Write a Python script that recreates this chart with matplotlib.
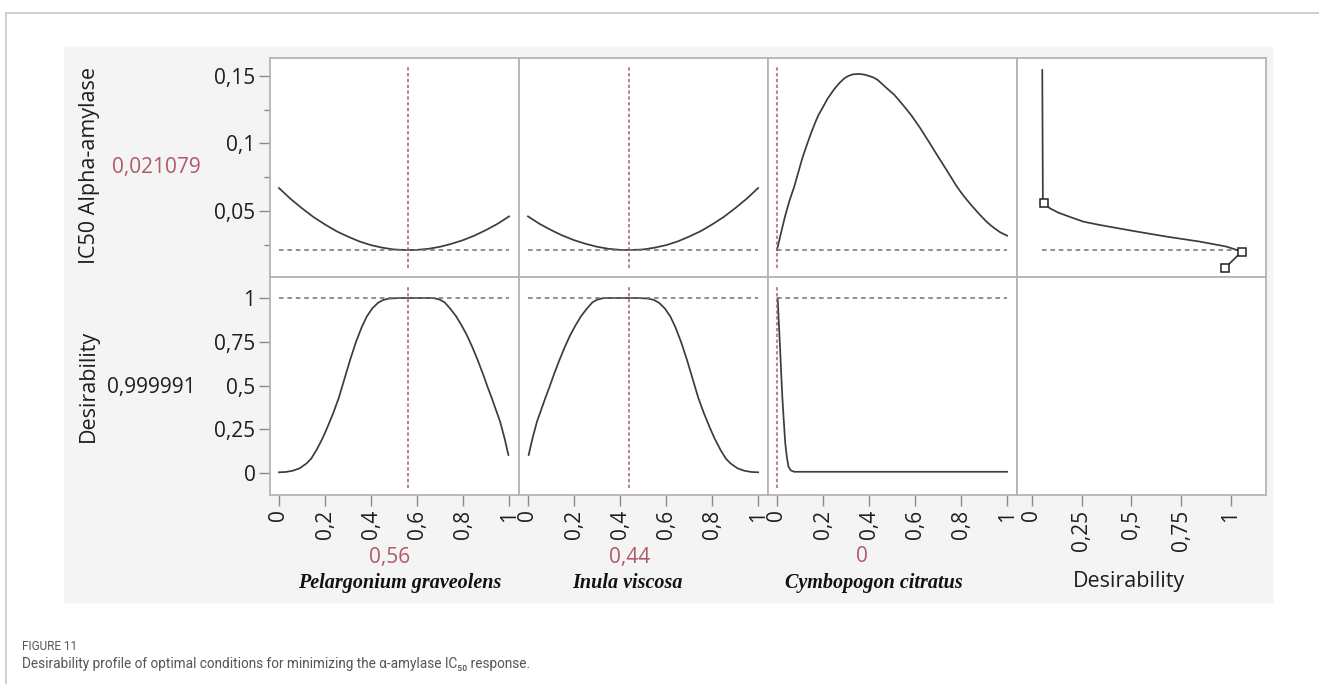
import matplotlib
matplotlib.use("Agg")
import matplotlib.pyplot as plt
from matplotlib.patches import Rectangle
from matplotlib.lines import Line2D
from matplotlib.ticker import FixedLocator

plt.rcParams["font.family"] = ["Open Sans", "DejaVu Sans"]

# ---- data ----
factors = ["Pelargonium graveolens", "Inula viscosa", "Cymbopogon citratus"]
optimum = [0.56, 0.44, 0.0]
optimum_labels = ["0,56", "0,44", "0"]
ic50_optimum = 0.021079
desir_optimum = 0.999991

# IC50 Alpha-amylase profiles
pg_ic50_x = [0, 0.05, 0.10, 0.15, 0.20, 0.25, 0.30, 0.35, 0.40, 0.45, 0.50,
             0.55, 0.60, 0.65, 0.70, 0.75, 0.80, 0.85, 0.90, 0.95, 1.0]
pg_ic50_y = [0.067, 0.059, 0.052, 0.0455, 0.040, 0.035, 0.031, 0.0274, 0.0247,
             0.0228, 0.0215, 0.0211, 0.0212, 0.0220, 0.0235, 0.0257, 0.0284,
             0.0318, 0.0359, 0.0405, 0.046]
iv_ic50_x = [0, 0.05, 0.10, 0.15, 0.20, 0.25, 0.30, 0.35, 0.40, 0.45, 0.50,
             0.55, 0.60, 0.65, 0.70, 0.75, 0.80, 0.85, 0.90, 0.95, 1.0]
iv_ic50_y = [0.046, 0.0405, 0.0359, 0.0318, 0.0284, 0.0257, 0.0235, 0.0220,
             0.0212, 0.0211, 0.0215, 0.0228, 0.0247, 0.0274, 0.031, 0.035,
             0.040, 0.0455, 0.052, 0.059, 0.067]
cc_ic50_x = [0, 0.015, 0.035, 0.055, 0.075, 0.095, 0.11, 0.13, 0.148, 0.165,
             0.18, 0.20, 0.22, 0.25, 0.27, 0.293, 0.31, 0.33, 0.358, 0.38,
             0.40, 0.42, 0.438, 0.47, 0.51, 0.55, 0.583, 0.62, 0.655, 0.69,
             0.727, 0.76, 0.78, 0.80, 0.82, 0.84, 0.86, 0.873, 0.89, 0.91,
             0.93, 0.945, 0.97, 1.0]
cc_ic50_y = [0.021, 0.032, 0.046, 0.058, 0.068, 0.080, 0.089, 0.099, 0.1076,
             0.115, 0.121, 0.127, 0.1332, 0.1405, 0.1445, 0.1483, 0.150, 0.1512,
             0.1515, 0.1510, 0.1500, 0.1488, 0.147, 0.142, 0.136, 0.128, 0.121,
             0.112, 0.1026, 0.093, 0.083, 0.074, 0.0685, 0.0637, 0.0593, 0.0552,
             0.0513, 0.0488, 0.0457, 0.0422, 0.0392, 0.0372, 0.0342, 0.0317]

# Desirability function (desirability on x, IC50 on y)
dfun_x = [0.052, 0.055, 0.062, 0.090, 0.132, 0.174, 0.258, 0.342, 0.509,
          0.677, 0.844, 0.978, 1.054, 0.97]
dfun_y = [0.1544, 0.057, 0.0557, 0.052, 0.0488, 0.0465, 0.0421, 0.0396,
          0.0352, 0.031, 0.0273, 0.0236, 0.0199, 0.0078]
dfun_pts_x = [0.06, 1.054, 0.97]
dfun_pts_y = [0.0557, 0.0199, 0.0078]

# Desirability profiles
pg_des_x = [0, 0.03, 0.06, 0.09, 0.12, 0.14, 0.163, 0.19, 0.21, 0.236, 0.26,
            0.285, 0.309, 0.335, 0.36, 0.381, 0.405, 0.43, 0.453, 0.48, 0.526,
            0.6, 0.66, 0.678, 0.70, 0.72, 0.743, 0.77, 0.795, 0.816, 0.84,
            0.865, 0.888, 0.907, 0.925, 0.943, 0.961, 0.98, 0.997]
pg_des_y = [0.004, 0.006, 0.013, 0.027, 0.055, 0.082, 0.131, 0.20, 0.26,
            0.343, 0.43, 0.54, 0.646, 0.75, 0.835, 0.893, 0.94, 0.972, 0.989,
            0.997, 1.0, 1.0, 1.0, 0.998, 0.99, 0.975, 0.941, 0.895, 0.84,
            0.789, 0.72, 0.64, 0.56, 0.49, 0.427, 0.36, 0.293, 0.2, 0.103]
iv_des_x = [0.003, 0.02, 0.039, 0.057, 0.075, 0.093, 0.112, 0.135, 0.16,
            0.184, 0.205, 0.23, 0.257, 0.28, 0.30, 0.322, 0.34, 0.40, 0.474,
            0.52, 0.547, 0.57, 0.595, 0.619, 0.64, 0.665, 0.691, 0.715, 0.74,
            0.764, 0.79, 0.81, 0.837, 0.86, 0.88, 0.91, 0.94, 0.97, 1.0]
iv_des_y = [0.103, 0.2, 0.293, 0.36, 0.427, 0.49, 0.56, 0.64, 0.72, 0.789,
            0.84, 0.895, 0.941, 0.975, 0.99, 0.998, 1.0, 1.0, 1.0, 0.997,
            0.989, 0.972, 0.94, 0.893, 0.835, 0.75, 0.646, 0.54, 0.43, 0.343,
            0.26, 0.20, 0.131, 0.082, 0.055, 0.027, 0.013, 0.006, 0.004]
cc_des_x = [0.003, 0.008, 0.014, 0.019, 0.024, 0.03, 0.036, 0.043, 0.05, 0.06,
            0.075, 1.0]
cc_des_y = [1.0, 0.86, 0.70, 0.55, 0.417, 0.29, 0.17, 0.09, 0.036, 0.015,
            0.007, 0.007]

ic50_profiles = [(pg_ic50_x, pg_ic50_y), (iv_ic50_x, iv_ic50_y), (cc_ic50_x, cc_ic50_y)]
des_profiles = [(pg_des_x, pg_des_y), (iv_des_x, iv_des_y), (cc_des_x, cc_des_y)]

factor_ticks = [0, 0.2, 0.4, 0.6, 0.8, 1]
factor_ticklabels = ["0", "0,2", "0,4", "0,6", "0,8", "1"]
des_ticks = [0, 0.25, 0.5, 0.75, 1]
des_ticklabels = ["0", "0,25", "0,5", "0,75", "1"]
ic50_ticks = [0.05, 0.1, 0.15]
ic50_ticklabels = ["0,05", "0,1", "0,15"]
ic50_minor = [0.025, 0.075, 0.125]

# ---- styling ----
W, H = 1319, 684
CURVE = "#3c3c3c"
HDASH = "#7d6b70"
VDASH = "#a0606e"
RED = "#b0596a"
SPINE = "#b4b4b4"
TICKC = "#8a8a8a"
FS = 15


def fx(px):
    return px / W


def fy(py):
    return 1 - py / H


fig = plt.figure(figsize=(W / 100, H / 100), dpi=100)
fig.patch.set_facecolor("white")
fig.patches.append(Rectangle((fx(64), fy(602)), (1272 - 64) / W, (602 - 47) / H,
                             transform=fig.transFigure, color="#f4f4f4", zorder=-5))
fig.lines.append(Line2D([fx(6), 1], [fy(13), fy(13)], transform=fig.transFigure,
                        color="#c8c8c8", lw=1.2, zorder=-5))
fig.lines.append(Line2D([fx(6), fx(6)], [fy(13), 0], transform=fig.transFigure,
                        color="#c8c8c8", lw=1.2, zorder=-5))

col_left = [270, 519, 768, 1017]
col_w = 249
row_top = [58, 277]
row_h = [219, 218]


def make_ax(r, c):
    ax = fig.add_axes([fx(col_left[c]), fy(row_top[r] + row_h[r]),
                       col_w / W, row_h[r] / H])
    ax.set_facecolor("white")
    ax.set_zorder(2)
    for s in ax.spines.values():
        s.set_color(SPINE)
        s.set_linewidth(1.3)
    ax.tick_params(axis="both", which="both", color=TICKC, labelsize=FS,
                   labelcolor="#1e1e1e", direction="out")
    ax.tick_params(which="major", length=8, width=1, pad=2.5)
    ax.tick_params(which="minor", length=4.5, width=1)
    return ax


hd = dict(color=HDASH, lw=1.1, ls=(0, (3, 2.5)))
vd = dict(color=VDASH, lw=1.1, ls=(0, (2.2, 1.6)))
cv = dict(color=CURVE, lw=1.25, solid_joinstyle="round")

for c in range(4):
    top = make_ax(0, c)
    bot = make_ax(1, c)
    if c < 3:
        xlim = (-0.039, 1.043)
    else:
        xlim = (-0.075, 1.176)
    top.set_xlim(*xlim)
    bot.set_xlim(*xlim)
    top.set_ylim(0.0011, 0.1633)
    bot.set_ylim(-0.1257, 1.12)
    top.set_xticks([])
    top.set_yticks([])
    bot.set_yticks([])
    if c == 0:
        top.yaxis.set_major_locator(FixedLocator(ic50_ticks))
        top.set_yticklabels(ic50_ticklabels)
        top.yaxis.set_minor_locator(FixedLocator(ic50_minor))
        bot.set_yticks(des_ticks)
        bot.set_yticklabels(des_ticklabels)
    if c < 3:
        bot.set_xticks(factor_ticks)
        bot.set_xticklabels(factor_ticklabels, rotation=90)
        xs, ys = ic50_profiles[c]
        top.plot(xs, ys, **cv)
        xs, ys = des_profiles[c]
        bot.plot(xs, ys, **cv)
        top.plot([0, 1], [ic50_optimum, ic50_optimum], **hd)
        bot.plot([0, 1], [1, 1], **hd)
        top.axvline(optimum[c], ymin=0.041, ymax=0.968, **vd)
        bot.axvline(optimum[c], ymin=0.032, ymax=0.963, **vd)
    else:
        bot.set_xticks(des_ticks)
        bot.set_xticklabels(des_ticklabels, rotation=90)
        top.plot([dfun_x[0], dfun_pts_x[1]], [ic50_optimum, ic50_optimum], **hd)
        top.plot(dfun_x, dfun_y, **cv)
        top.plot(dfun_pts_x, dfun_pts_y, ls="none", marker="s", ms=6,
                 mfc="white", mec="#222222", mew=1.1)

# row titles and current values
fig.text(fx(90), fy(166), "IC50 Alpha-amylase", rotation=90, ha="center",
         va="center", fontsize=15.5, color="#1e1e1e")
fig.text(fx(88), fy(386), "Desirability", rotation=90, ha="center",
         va="center", fontsize=15.5, color="#1e1e1e")
fig.text(fx(156), fy(167), "0,021079", ha="center", va="center",
         fontsize=15, color=RED)
fig.text(fx(151), fy(387), "0,999991", ha="center",
         va="center", fontsize=15, color="#1e1e1e")

# factor names and optimum settings
value_x = [390, 630, 862]
name_x = [400, 627, 874]
for i in range(3):
    fig.text(fx(value_x[i]), fy(557), optimum_labels[i], ha="center",
             va="center", fontsize=15, color=RED)
    fig.text(fx(name_x[i]), fy(583), factors[i], ha="center", va="center",
             fontsize=14.5, fontweight="bold", fontstyle="italic",
             family=["Liberation Serif", "DejaVu Serif"], color="#111111")
fig.text(fx(1129), fy(582), "Desirability", ha="center", va="center",
         fontsize=15.5, color="#1e1e1e")

# caption
cap_font = ["Roboto", "DejaVu Sans"]
fig.text(fx(22), fy(647), "FIGURE 11", ha="left", va="center", fontsize=8.5,
         family=cap_font, color="#555555")
fig.text(fx(22), fy(664),
         "Desirability profile of optimal conditions for minimizing the "
         "\u03b1-amylase IC\u2085\u2080 response.",
         ha="left", va="center", fontsize=9.8, family=cap_font, color="#555555")

fig.savefig("out.png", dpi=100)
